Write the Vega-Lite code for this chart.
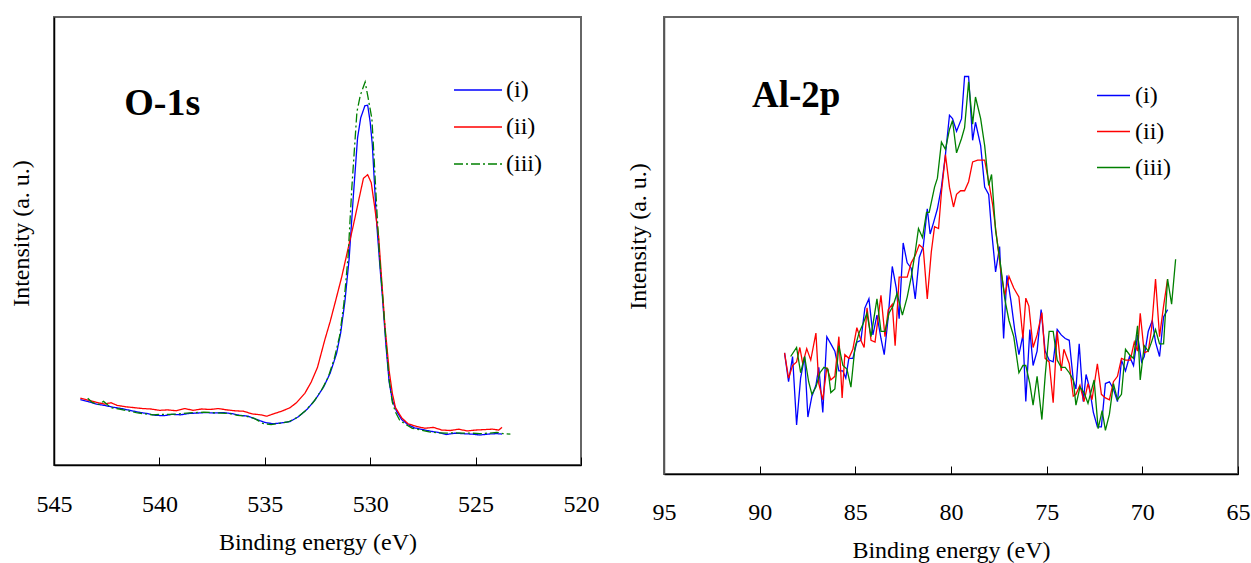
{
"$schema": "https://vega.github.io/schema/vega-lite/v6.json",
"background": "white",
"padding": {"left": 8, "top": 16, "right": 0, "bottom": 0},
"spacing": 25,
"config": {
  "font": "Liberation Serif",
  "view": {"stroke": "#666666", "strokeWidth": 2},
  "axis": {"grid": false, "labelColor": "black", "titleColor": "black", "labelFont": "Liberation Serif", "titleFont": "Liberation Serif", "labelFontSize": 24, "titleFontSize": 24, "titleFontWeight": "normal", "tickColor": "black", "domainColor": "black", "domainWidth": 1.5},
  "legend": {"labelFont": "Liberation Serif", "labelFontSize": 24, "labelColor": "black", "symbolType": "stroke", "title": null}
},
"datasets": {
"o1s": [
{"sample":"(i)","energy":543.75,"intensity":14.6},{"sample":"(i)","energy":543.4,"intensity":14.2},{"sample":"(i)","energy":543.0,"intensity":13.6},{"sample":"(i)","energy":542.6,"intensity":13.3},{"sample":"(i)","energy":542.2,"intensity":12.9},{"sample":"(i)","energy":541.8,"intensity":12.6},{"sample":"(i)","energy":541.4,"intensity":12.2},{"sample":"(i)","energy":541.0,"intensity":11.8},{"sample":"(i)","energy":540.6,"intensity":11.5},{"sample":"(i)","energy":540.2,"intensity":11.1},{"sample":"(i)","energy":539.8,"intensity":11.0},{"sample":"(i)","energy":539.4,"intensity":11.3},{"sample":"(i)","energy":539.0,"intensity":11.2},{"sample":"(i)","energy":538.6,"intensity":11.5},{"sample":"(i)","energy":538.2,"intensity":11.6},{"sample":"(i)","energy":537.8,"intensity":11.7},{"sample":"(i)","energy":537.4,"intensity":11.6},{"sample":"(i)","energy":537.0,"intensity":11.7},{"sample":"(i)","energy":536.6,"intensity":11.5},{"sample":"(i)","energy":536.2,"intensity":11.1},{"sample":"(i)","energy":535.8,"intensity":10.9},{"sample":"(i)","energy":535.4,"intensity":10.2},{"sample":"(i)","energy":535.0,"intensity":9.5},{"sample":"(i)","energy":534.6,"intensity":9.2},{"sample":"(i)","energy":534.2,"intensity":9.4},{"sample":"(i)","energy":533.8,"intensity":9.7},{"sample":"(i)","energy":533.4,"intensity":10.8},{"sample":"(i)","energy":533.0,"intensity":12.4},{"sample":"(i)","energy":532.6,"intensity":14.6},{"sample":"(i)","energy":532.2,"intensity":17.5},{"sample":"(i)","energy":531.9,"intensity":20.5},{"sample":"(i)","energy":531.6,"intensity":24.8},{"sample":"(i)","energy":531.4,"intensity":29.5},{"sample":"(i)","energy":531.2,"intensity":36.5},{"sample":"(i)","energy":531.0,"intensity":46.0},{"sample":"(i)","energy":530.8,"intensity":60.0},{"sample":"(i)","energy":530.6,"intensity":73.0},{"sample":"(i)","energy":530.45,"intensity":77.5},{"sample":"(i)","energy":530.25,"intensity":80.2},{"sample":"(i)","energy":530.12,"intensity":80.3},{"sample":"(i)","energy":530.0,"intensity":76.5},{"sample":"(i)","energy":529.9,"intensity":71.5},{"sample":"(i)","energy":529.7,"intensity":54.5},{"sample":"(i)","energy":529.55,"intensity":45.0},{"sample":"(i)","energy":529.42,"intensity":37.5},{"sample":"(i)","energy":529.25,"intensity":26.5},{"sample":"(i)","energy":529.1,"intensity":18.5},{"sample":"(i)","energy":528.95,"intensity":14.5},{"sample":"(i)","energy":528.75,"intensity":12.0},{"sample":"(i)","energy":528.5,"intensity":10.1},{"sample":"(i)","energy":528.2,"intensity":9.0},{"sample":"(i)","energy":527.9,"intensity":8.3},{"sample":"(i)","energy":527.5,"intensity":7.9},{"sample":"(i)","energy":527.1,"intensity":7.5},{"sample":"(i)","energy":526.8,"intensity":7.3},{"sample":"(i)","energy":526.4,"intensity":6.8},{"sample":"(i)","energy":526.0,"intensity":7.1},{"sample":"(i)","energy":525.6,"intensity":7.0},{"sample":"(i)","energy":525.2,"intensity":6.9},{"sample":"(i)","energy":524.8,"intensity":6.7},{"sample":"(i)","energy":524.4,"intensity":6.9},{"sample":"(i)","energy":524.0,"intensity":7.0},{"sample":"(i)","energy":523.75,"intensity":6.9},
{"sample":"(ii)","energy":543.75,"intensity":14.9},{"sample":"(ii)","energy":543.4,"intensity":14.5},{"sample":"(ii)","energy":543.0,"intensity":14.0},{"sample":"(ii)","energy":542.6,"intensity":13.6},{"sample":"(ii)","energy":542.3,"intensity":13.9},{"sample":"(ii)","energy":542.0,"intensity":13.3},{"sample":"(ii)","energy":541.6,"intensity":13.0},{"sample":"(ii)","energy":541.2,"intensity":12.8},{"sample":"(ii)","energy":540.8,"intensity":12.6},{"sample":"(ii)","energy":540.4,"intensity":12.5},{"sample":"(ii)","energy":540.0,"intensity":12.2},{"sample":"(ii)","energy":539.6,"intensity":12.3},{"sample":"(ii)","energy":539.2,"intensity":12.1},{"sample":"(ii)","energy":538.8,"intensity":12.6},{"sample":"(ii)","energy":538.4,"intensity":12.2},{"sample":"(ii)","energy":538.0,"intensity":12.5},{"sample":"(ii)","energy":537.6,"intensity":12.4},{"sample":"(ii)","energy":537.2,"intensity":12.6},{"sample":"(ii)","energy":536.8,"intensity":12.3},{"sample":"(ii)","energy":536.4,"intensity":12.1},{"sample":"(ii)","energy":536.0,"intensity":12.0},{"sample":"(ii)","energy":535.6,"intensity":11.4},{"sample":"(ii)","energy":535.2,"intensity":11.2},{"sample":"(ii)","energy":534.9,"intensity":10.9},{"sample":"(ii)","energy":534.6,"intensity":11.4},{"sample":"(ii)","energy":534.2,"intensity":12.0},{"sample":"(ii)","energy":533.8,"intensity":12.8},{"sample":"(ii)","energy":533.5,"intensity":13.9},{"sample":"(ii)","energy":533.1,"intensity":16.0},{"sample":"(ii)","energy":532.8,"intensity":18.5},{"sample":"(ii)","energy":532.5,"intensity":21.8},{"sample":"(ii)","energy":532.15,"intensity":28.0},{"sample":"(ii)","energy":531.9,"intensity":32.0},{"sample":"(ii)","energy":531.65,"intensity":36.5},{"sample":"(ii)","energy":531.35,"intensity":42.0},{"sample":"(ii)","energy":531.05,"intensity":48.3},{"sample":"(ii)","energy":530.8,"intensity":53.5},{"sample":"(ii)","energy":530.55,"intensity":59.0},{"sample":"(ii)","energy":530.32,"intensity":64.0},{"sample":"(ii)","energy":530.12,"intensity":64.8},{"sample":"(ii)","energy":529.95,"intensity":63.0},{"sample":"(ii)","energy":529.8,"intensity":58.0},{"sample":"(ii)","energy":529.6,"intensity":51.0},{"sample":"(ii)","energy":529.45,"intensity":41.0},{"sample":"(ii)","energy":529.3,"intensity":31.0},{"sample":"(ii)","energy":529.1,"intensity":21.0},{"sample":"(ii)","energy":528.95,"intensity":16.0},{"sample":"(ii)","energy":528.8,"intensity":12.8},{"sample":"(ii)","energy":528.5,"intensity":10.5},{"sample":"(ii)","energy":528.2,"intensity":9.2},{"sample":"(ii)","energy":527.8,"intensity":8.6},{"sample":"(ii)","energy":527.4,"intensity":8.2},{"sample":"(ii)","energy":527.0,"intensity":8.4},{"sample":"(ii)","energy":526.6,"intensity":7.8},{"sample":"(ii)","energy":526.2,"intensity":7.7},{"sample":"(ii)","energy":525.8,"intensity":8.0},{"sample":"(ii)","energy":525.4,"intensity":7.6},{"sample":"(ii)","energy":525.0,"intensity":7.8},{"sample":"(ii)","energy":524.6,"intensity":7.9},{"sample":"(ii)","energy":524.2,"intensity":8.0},{"sample":"(ii)","energy":523.9,"intensity":7.8},{"sample":"(ii)","energy":523.75,"intensity":8.4},
{"sample":"(iii)","energy":543.4,"intensity":14.9},{"sample":"(iii)","energy":543.2,"intensity":14.0},{"sample":"(iii)","energy":542.9,"intensity":13.5},{"sample":"(iii)","energy":542.65,"intensity":14.2},{"sample":"(iii)","energy":542.3,"intensity":12.8},{"sample":"(iii)","energy":541.9,"intensity":12.5},{"sample":"(iii)","energy":541.5,"intensity":12.1},{"sample":"(iii)","energy":541.1,"intensity":11.7},{"sample":"(iii)","energy":540.7,"intensity":11.4},{"sample":"(iii)","energy":540.3,"intensity":11.2},{"sample":"(iii)","energy":539.9,"intensity":11.3},{"sample":"(iii)","energy":539.5,"intensity":11.3},{"sample":"(iii)","energy":539.1,"intensity":11.4},{"sample":"(iii)","energy":538.7,"intensity":11.6},{"sample":"(iii)","energy":538.3,"intensity":11.7},{"sample":"(iii)","energy":537.9,"intensity":11.8},{"sample":"(iii)","energy":537.5,"intensity":11.7},{"sample":"(iii)","energy":537.1,"intensity":11.6},{"sample":"(iii)","energy":536.7,"intensity":11.5},{"sample":"(iii)","energy":536.3,"intensity":11.1},{"sample":"(iii)","energy":535.9,"intensity":10.9},{"sample":"(iii)","energy":535.5,"intensity":10.4},{"sample":"(iii)","energy":535.1,"intensity":9.3},{"sample":"(iii)","energy":534.7,"intensity":9.0},{"sample":"(iii)","energy":534.3,"intensity":9.3},{"sample":"(iii)","energy":533.9,"intensity":9.6},{"sample":"(iii)","energy":533.5,"intensity":10.5},{"sample":"(iii)","energy":533.1,"intensity":12.0},{"sample":"(iii)","energy":532.7,"intensity":14.0},{"sample":"(iii)","energy":532.3,"intensity":16.8},{"sample":"(iii)","energy":532.0,"intensity":19.5},{"sample":"(iii)","energy":531.7,"intensity":23.8},{"sample":"(iii)","energy":531.45,"intensity":28.8},{"sample":"(iii)","energy":531.25,"intensity":36.0},{"sample":"(iii)","energy":531.05,"intensity":46.5},{"sample":"(iii)","energy":530.87,"intensity":62.0},{"sample":"(iii)","energy":530.63,"intensity":78.8},{"sample":"(iii)","energy":530.47,"intensity":82.5},{"sample":"(iii)","energy":530.24,"intensity":85.5},{"sample":"(iii)","energy":530.1,"intensity":82.0},{"sample":"(iii)","energy":529.92,"intensity":77.3},{"sample":"(iii)","energy":529.84,"intensity":70.6},{"sample":"(iii)","energy":529.68,"intensity":56.5},{"sample":"(iii)","energy":529.55,"intensity":46.0},{"sample":"(iii)","energy":529.4,"intensity":37.0},{"sample":"(iii)","energy":529.25,"intensity":27.5},{"sample":"(iii)","energy":529.1,"intensity":19.0},{"sample":"(iii)","energy":528.95,"intensity":14.0},{"sample":"(iii)","energy":528.8,"intensity":11.8},{"sample":"(iii)","energy":528.6,"intensity":10.0},{"sample":"(iii)","energy":528.3,"intensity":9.0},{"sample":"(iii)","energy":528.0,"intensity":8.2},{"sample":"(iii)","energy":527.6,"intensity":7.8},{"sample":"(iii)","energy":527.2,"intensity":7.4},{"sample":"(iii)","energy":526.8,"intensity":7.2},{"sample":"(iii)","energy":526.4,"intensity":7.1},{"sample":"(iii)","energy":526.0,"intensity":7.2},{"sample":"(iii)","energy":525.6,"intensity":7.1},{"sample":"(iii)","energy":525.2,"intensity":7.1},{"sample":"(iii)","energy":524.8,"intensity":7.0},{"sample":"(iii)","energy":524.4,"intensity":7.1},{"sample":"(iii)","energy":524.0,"intensity":7.3},{"sample":"(iii)","energy":523.7,"intensity":7.0},{"sample":"(iii)","energy":523.35,"intensity":6.9}
],
"al2p": [
{"sample":"(i)","energy":88.70,"intensity":26.50},{"sample":"(i)","energy":88.49,"intensity":20.19},{"sample":"(i)","energy":88.28,"intensity":25.71},{"sample":"(i)","energy":88.07,"intensity":10.72},{"sample":"(i)","energy":87.86,"intensity":20.98},{"sample":"(i)","energy":87.65,"intensity":25.71},{"sample":"(i)","energy":87.48,"intensity":12.46},{"sample":"(i)","energy":87.27,"intensity":17.03},{"sample":"(i)","energy":87.06,"intensity":19.40},{"sample":"(i)","energy":86.91,"intensity":23.34},{"sample":"(i)","energy":86.70,"intensity":13.49},{"sample":"(i)","energy":86.49,"intensity":30.05},{"sample":"(i)","energy":86.28,"intensity":28.47},{"sample":"(i)","energy":86.07,"intensity":26.89},{"sample":"(i)","energy":85.86,"intensity":22.55},{"sample":"(i)","energy":85.65,"intensity":22.55},{"sample":"(i)","energy":85.50,"intensity":20.98},{"sample":"(i)","energy":85.34,"intensity":25.31},{"sample":"(i)","energy":85.13,"intensity":25.31},{"sample":"(i)","energy":84.92,"intensity":28.86},{"sample":"(i)","energy":84.71,"intensity":29.26},{"sample":"(i)","energy":84.50,"intensity":36.35},{"sample":"(i)","energy":84.29,"intensity":38.33},{"sample":"(i)","energy":84.08,"intensity":30.44},{"sample":"(i)","energy":83.87,"intensity":34.78},{"sample":"(i)","energy":83.66,"intensity":29.65},{"sample":"(i)","energy":83.49,"intensity":26.10},{"sample":"(i)","energy":83.28,"intensity":34.38},{"sample":"(i)","energy":83.07,"intensity":45.42},{"sample":"(i)","energy":82.86,"intensity":40.69},{"sample":"(i)","energy":82.71,"intensity":33.99},{"sample":"(i)","energy":82.50,"intensity":50.55},{"sample":"(i)","energy":82.29,"intensity":46.21},{"sample":"(i)","energy":82.08,"intensity":45.03},{"sample":"(i)","energy":81.87,"intensity":38.33},{"sample":"(i)","energy":81.66,"intensity":47.39},{"sample":"(i)","energy":81.45,"intensity":49.76},{"sample":"(i)","energy":81.24,"intensity":58.04},{"sample":"(i)","energy":81.09,"intensity":52.52},{"sample":"(i)","energy":80.92,"intensity":54.89},{"sample":"(i)","energy":80.71,"intensity":58.04},{"sample":"(i)","energy":80.50,"intensity":62.77},{"sample":"(i)","energy":80.29,"intensity":69.87},{"sample":"(i)","energy":80.08,"intensity":78.50},{"sample":"(i)","energy":79.92,"intensity":77.76},{"sample":"(i)","energy":79.71,"intensity":75.00},{"sample":"(i)","energy":79.45,"intensity":77.76},{"sample":"(i)","energy":79.29,"intensity":86.98},{"sample":"(i)","energy":79.08,"intensity":86.98},{"sample":"(i)","energy":78.87,"intensity":73.02},{"sample":"(i)","energy":78.72,"intensity":76.97},{"sample":"(i)","energy":78.45,"intensity":71.84},{"sample":"(i)","energy":78.24,"intensity":62.77},{"sample":"(i)","energy":78.03,"intensity":61.19},{"sample":"(i)","energy":77.88,"intensity":53.31},{"sample":"(i)","energy":77.67,"intensity":44.24},{"sample":"(i)","energy":77.46,"intensity":49.76},{"sample":"(i)","energy":77.25,"intensity":29.65},{"sample":"(i)","energy":77.08,"intensity":43.45},{"sample":"(i)","energy":76.87,"intensity":37.93},{"sample":"(i)","energy":76.66,"intensity":31.23},{"sample":"(i)","energy":76.45,"intensity":26.10},{"sample":"(i)","energy":76.24,"intensity":30.44},{"sample":"(i)","energy":76.09,"intensity":15.85},{"sample":"(i)","energy":75.88,"intensity":31.62},{"sample":"(i)","energy":75.71,"intensity":23.74},{"sample":"(i)","energy":75.50,"intensity":26.89},{"sample":"(i)","energy":75.29,"intensity":35.96},{"sample":"(i)","energy":75.08,"intensity":26.89},{"sample":"(i)","energy":74.87,"intensity":24.92},{"sample":"(i)","energy":74.66,"intensity":24.53},{"sample":"(i)","energy":74.45,"intensity":31.62},{"sample":"(i)","energy":74.24,"intensity":30.44},{"sample":"(i)","energy":74.03,"intensity":29.65},{"sample":"(i)","energy":73.82,"intensity":29.26},{"sample":"(i)","energy":73.61,"intensity":20.58},{"sample":"(i)","energy":73.47,"intensity":18.61},{"sample":"(i)","energy":73.30,"intensity":28.47},{"sample":"(i)","energy":73.09,"intensity":15.85},{"sample":"(i)","energy":72.94,"intensity":21.77},{"sample":"(i)","energy":72.77,"intensity":19.01},{"sample":"(i)","energy":72.56,"intensity":13.49},{"sample":"(i)","energy":72.35,"intensity":10.33},{"sample":"(i)","energy":72.14,"intensity":10.33},{"sample":"(i)","energy":71.93,"intensity":19.79},{"sample":"(i)","energy":71.72,"intensity":20.19},{"sample":"(i)","energy":71.51,"intensity":18.61},{"sample":"(i)","energy":71.30,"intensity":15.85},{"sample":"(i)","energy":71.09,"intensity":24.92},{"sample":"(i)","energy":70.88,"intensity":22.55},{"sample":"(i)","energy":70.67,"intensity":25.71},{"sample":"(i)","energy":70.46,"intensity":23.74},{"sample":"(i)","energy":70.25,"intensity":30.44},{"sample":"(i)","energy":70.04,"intensity":24.53},{"sample":"(i)","energy":69.90,"intensity":25.71},{"sample":"(i)","energy":69.69,"intensity":31.23},{"sample":"(i)","energy":69.48,"intensity":33.59},{"sample":"(i)","energy":69.31,"intensity":28.86},{"sample":"(i)","energy":69.10,"intensity":25.71},{"sample":"(i)","energy":68.89,"intensity":34.38},{"sample":"(i)","energy":68.68,"intensity":35.96},
{"sample":"(ii)","energy":88.70,"intensity":26.50},{"sample":"(ii)","energy":88.49,"intensity":20.98},{"sample":"(ii)","energy":88.28,"intensity":23.74},{"sample":"(ii)","energy":88.07,"intensity":24.53},{"sample":"(ii)","energy":87.90,"intensity":27.68},{"sample":"(ii)","energy":87.75,"intensity":24.13},{"sample":"(ii)","energy":87.54,"intensity":27.44},{"sample":"(ii)","energy":87.33,"intensity":24.92},{"sample":"(ii)","energy":87.06,"intensity":30.83},{"sample":"(ii)","energy":86.91,"intensity":19.79},{"sample":"(ii)","energy":86.70,"intensity":16.25},{"sample":"(ii)","energy":86.49,"intensity":23.34},{"sample":"(ii)","energy":86.28,"intensity":20.58},{"sample":"(ii)","energy":86.07,"intensity":21.37},{"sample":"(ii)","energy":85.86,"intensity":30.05},{"sample":"(ii)","energy":85.69,"intensity":16.64},{"sample":"(ii)","energy":85.55,"intensity":26.10},{"sample":"(ii)","energy":85.34,"intensity":25.31},{"sample":"(ii)","energy":85.13,"intensity":27.29},{"sample":"(ii)","energy":84.92,"intensity":32.02},{"sample":"(ii)","energy":84.71,"intensity":29.26},{"sample":"(ii)","energy":84.54,"intensity":27.68},{"sample":"(ii)","energy":84.39,"intensity":36.35},{"sample":"(ii)","energy":84.18,"intensity":29.26},{"sample":"(ii)","energy":83.97,"intensity":28.86},{"sample":"(ii)","energy":83.66,"intensity":39.11},{"sample":"(ii)","energy":83.45,"intensity":30.05},{"sample":"(ii)","energy":83.28,"intensity":35.96},{"sample":"(ii)","energy":83.07,"intensity":37.14},{"sample":"(ii)","energy":82.92,"intensity":28.07},{"sample":"(ii)","energy":82.71,"intensity":43.06},{"sample":"(ii)","energy":82.50,"intensity":43.06},{"sample":"(ii)","energy":82.29,"intensity":43.06},{"sample":"(ii)","energy":82.08,"intensity":46.21},{"sample":"(ii)","energy":81.87,"intensity":47.79},{"sample":"(ii)","energy":81.66,"intensity":50.15},{"sample":"(ii)","energy":81.45,"intensity":49.37},{"sample":"(ii)","energy":81.24,"intensity":38.33},{"sample":"(ii)","energy":81.03,"intensity":48.58},{"sample":"(ii)","energy":80.86,"intensity":54.10},{"sample":"(ii)","energy":80.65,"intensity":53.70},{"sample":"(ii)","energy":80.50,"intensity":61.59},{"sample":"(ii)","energy":80.29,"intensity":69.87},{"sample":"(ii)","energy":80.08,"intensity":62.77},{"sample":"(ii)","energy":79.87,"intensity":58.43},{"sample":"(ii)","energy":79.71,"intensity":61.19},{"sample":"(ii)","energy":79.50,"intensity":61.98},{"sample":"(ii)","energy":79.29,"intensity":61.98},{"sample":"(ii)","energy":79.08,"intensity":63.95},{"sample":"(ii)","energy":78.87,"intensity":68.29},{"sample":"(ii)","energy":78.61,"intensity":68.69},{"sample":"(ii)","energy":78.24,"intensity":68.69},{"sample":"(ii)","energy":78.03,"intensity":63.95},{"sample":"(ii)","energy":77.82,"intensity":58.83},{"sample":"(ii)","energy":77.61,"intensity":51.73},{"sample":"(ii)","energy":77.40,"intensity":44.63},{"sample":"(ii)","energy":77.19,"intensity":39.11},{"sample":"(ii)","energy":76.97,"intensity":43.22},{"sample":"(ii)","energy":76.72,"intensity":40.69},{"sample":"(ii)","energy":76.45,"intensity":38.72},{"sample":"(ii)","energy":76.24,"intensity":29.65},{"sample":"(ii)","energy":76.09,"intensity":38.48},{"sample":"(ii)","energy":75.93,"intensity":36.75},{"sample":"(ii)","energy":75.71,"intensity":27.68},{"sample":"(ii)","energy":75.50,"intensity":30.44},{"sample":"(ii)","energy":75.25,"intensity":35.33},{"sample":"(ii)","energy":75.08,"intensity":25.31},{"sample":"(ii)","energy":74.87,"intensity":24.53},{"sample":"(ii)","energy":74.66,"intensity":15.61},{"sample":"(ii)","energy":74.45,"intensity":31.23},{"sample":"(ii)","energy":74.24,"intensity":22.55},{"sample":"(ii)","energy":74.10,"intensity":27.29},{"sample":"(ii)","energy":73.82,"intensity":24.13},{"sample":"(ii)","energy":73.61,"intensity":17.03},{"sample":"(ii)","energy":73.47,"intensity":17.43},{"sample":"(ii)","energy":73.26,"intensity":19.40},{"sample":"(ii)","energy":73.05,"intensity":15.85},{"sample":"(ii)","energy":72.84,"intensity":19.79},{"sample":"(ii)","energy":72.63,"intensity":16.25},{"sample":"(ii)","energy":72.35,"intensity":24.13},{"sample":"(ii)","energy":72.14,"intensity":17.43},{"sample":"(ii)","energy":71.93,"intensity":16.64},{"sample":"(ii)","energy":71.72,"intensity":16.25},{"sample":"(ii)","energy":71.51,"intensity":20.19},{"sample":"(ii)","energy":71.30,"intensity":21.37},{"sample":"(ii)","energy":71.09,"intensity":25.31},{"sample":"(ii)","energy":70.88,"intensity":24.92},{"sample":"(ii)","energy":70.63,"intensity":24.92},{"sample":"(ii)","energy":70.42,"intensity":28.86},{"sample":"(ii)","energy":70.25,"intensity":26.89},{"sample":"(ii)","energy":70.11,"intensity":35.17},{"sample":"(ii)","energy":69.90,"intensity":26.50},{"sample":"(ii)","energy":69.69,"intensity":26.89},{"sample":"(ii)","energy":69.52,"intensity":31.62},{"sample":"(ii)","energy":69.31,"intensity":42.66},{"sample":"(ii)","energy":69.10,"intensity":30.05},{"sample":"(ii)","energy":68.89,"intensity":36.75},{"sample":"(ii)","energy":68.68,"intensity":42.66},
{"sample":"(iii)","energy":88.38,"intensity":25.71},{"sample":"(iii)","energy":88.07,"intensity":27.68},{"sample":"(iii)","energy":87.86,"intensity":22.16},{"sample":"(iii)","energy":87.65,"intensity":25.71},{"sample":"(iii)","energy":87.44,"intensity":20.19},{"sample":"(iii)","energy":87.27,"intensity":17.43},{"sample":"(iii)","energy":87.06,"intensity":19.01},{"sample":"(iii)","energy":86.85,"intensity":22.16},{"sample":"(iii)","energy":86.64,"intensity":23.34},{"sample":"(iii)","energy":86.43,"intensity":22.95},{"sample":"(iii)","energy":86.28,"intensity":17.82},{"sample":"(iii)","energy":86.07,"intensity":18.61},{"sample":"(iii)","energy":85.86,"intensity":28.07},{"sample":"(iii)","energy":85.65,"intensity":23.74},{"sample":"(iii)","energy":85.44,"intensity":22.95},{"sample":"(iii)","energy":85.23,"intensity":19.01},{"sample":"(iii)","energy":85.02,"intensity":27.68},{"sample":"(iii)","energy":84.81,"intensity":30.83},{"sample":"(iii)","energy":84.60,"intensity":32.81},{"sample":"(iii)","energy":84.39,"intensity":35.17},{"sample":"(iii)","energy":84.18,"intensity":30.05},{"sample":"(iii)","energy":83.87,"intensity":38.33},{"sample":"(iii)","energy":83.66,"intensity":31.23},{"sample":"(iii)","energy":83.45,"intensity":31.23},{"sample":"(iii)","energy":83.24,"intensity":35.17},{"sample":"(iii)","energy":83.03,"intensity":36.75},{"sample":"(iii)","energy":82.82,"intensity":39.51},{"sample":"(iii)","energy":82.54,"intensity":34.78},{"sample":"(iii)","energy":82.29,"intensity":38.72},{"sample":"(iii)","energy":82.08,"intensity":43.06},{"sample":"(iii)","energy":81.87,"intensity":48.58},{"sample":"(iii)","energy":81.70,"intensity":53.70},{"sample":"(iii)","energy":81.49,"intensity":51.73},{"sample":"(iii)","energy":81.28,"intensity":57.25},{"sample":"(iii)","energy":81.14,"intensity":57.25},{"sample":"(iii)","energy":80.86,"intensity":62.77},{"sample":"(iii)","energy":80.71,"intensity":64.74},{"sample":"(iii)","energy":80.50,"intensity":72.63},{"sample":"(iii)","energy":80.29,"intensity":71.05},{"sample":"(iii)","energy":80.08,"intensity":75.39},{"sample":"(iii)","energy":79.92,"intensity":77.36},{"sample":"(iii)","energy":79.71,"intensity":70.26},{"sample":"(iii)","energy":79.45,"intensity":73.42},{"sample":"(iii)","energy":79.29,"intensity":75.78},{"sample":"(iii)","energy":79.08,"intensity":85.80},{"sample":"(iii)","energy":78.87,"intensity":76.57},{"sample":"(iii)","energy":78.72,"intensity":82.49},{"sample":"(iii)","energy":78.45,"intensity":77.76},{"sample":"(iii)","energy":78.24,"intensity":71.84},{"sample":"(iii)","energy":78.03,"intensity":63.17},{"sample":"(iii)","energy":77.88,"intensity":65.53},{"sample":"(iii)","energy":77.67,"intensity":53.31},{"sample":"(iii)","energy":77.40,"intensity":45.42},{"sample":"(iii)","energy":77.19,"intensity":38.33},{"sample":"(iii)","energy":76.97,"intensity":33.59},{"sample":"(iii)","energy":76.72,"intensity":30.05},{"sample":"(iii)","energy":76.45,"intensity":22.16},{"sample":"(iii)","energy":76.24,"intensity":23.74},{"sample":"(iii)","energy":76.09,"intensity":23.74},{"sample":"(iii)","energy":75.88,"intensity":19.79},{"sample":"(iii)","energy":75.71,"intensity":15.06},{"sample":"(iii)","energy":75.50,"intensity":21.37},{"sample":"(iii)","energy":75.25,"intensity":11.91},{"sample":"(iii)","energy":75.08,"intensity":21.37},{"sample":"(iii)","energy":74.87,"intensity":31.23},{"sample":"(iii)","energy":74.66,"intensity":31.23},{"sample":"(iii)","energy":74.45,"intensity":24.92},{"sample":"(iii)","energy":74.24,"intensity":23.34},{"sample":"(iii)","energy":74.03,"intensity":23.34},{"sample":"(iii)","energy":73.82,"intensity":22.16},{"sample":"(iii)","energy":73.61,"intensity":20.58},{"sample":"(iii)","energy":73.47,"intensity":15.06},{"sample":"(iii)","energy":73.26,"intensity":19.01},{"sample":"(iii)","energy":73.05,"intensity":17.82},{"sample":"(iii)","energy":72.84,"intensity":15.46},{"sample":"(iii)","energy":72.52,"intensity":20.58},{"sample":"(iii)","energy":72.31,"intensity":9.94},{"sample":"(iii)","energy":72.10,"intensity":13.88},{"sample":"(iii)","energy":71.93,"intensity":9.54},{"sample":"(iii)","energy":71.72,"intensity":13.09},{"sample":"(iii)","energy":71.51,"intensity":19.79},{"sample":"(iii)","energy":71.30,"intensity":16.25},{"sample":"(iii)","energy":71.09,"intensity":17.43},{"sample":"(iii)","energy":70.88,"intensity":27.29},{"sample":"(iii)","energy":70.67,"intensity":26.10},{"sample":"(iii)","energy":70.46,"intensity":25.31},{"sample":"(iii)","energy":70.25,"intensity":32.41},{"sample":"(iii)","energy":70.11,"intensity":20.58},{"sample":"(iii)","energy":69.90,"intensity":28.07},{"sample":"(iii)","energy":69.69,"intensity":26.89},{"sample":"(iii)","energy":69.52,"intensity":28.86},{"sample":"(iii)","energy":69.31,"intensity":31.62},{"sample":"(iii)","energy":69.10,"intensity":28.47},{"sample":"(iii)","energy":68.89,"intensity":28.47},{"sample":"(iii)","energy":68.68,"intensity":42.66},{"sample":"(iii)","energy":68.47,"intensity":37.14},{"sample":"(iii)","energy":68.26,"intensity":47.00}
]
},
"hconcat": [
{
  "width": 527, "height": 448,
  "layer": [
    {
      "data": {"name": "o1s"},
      "mark": {"type": "line", "clip": true},
      "encoding": {
        "x": {"field": "energy", "type": "quantitative", "scale": {"domain": [545, 520], "nice": false, "zero": false},
              "axis": {"title": "Binding energy (eV)", "values": [545, 540, 535, 530, 525, 520], "tickSize": -8, "labelPadding": 35, "titlePadding": 14, "labelFlush": false}},
        "y": {"field": "intensity", "type": "quantitative", "scale": {"domain": [0, 100], "nice": false},
              "axis": {"title": "Intensity (a. u.)", "labels": false, "ticks": false, "titlePadding": 21, "titleY": 216}},
        "color": {"field": "sample", "type": "nominal", "scale": {"domain": ["(i)", "(ii)", "(iii)"], "range": ["#0000FF", "#FF0000", "#008000"]},
                  "legend": {"orient": "none", "legendX": 399, "legendY": 48, "symbolSize": 2304, "rowPadding": -7, "labelOffset": 3}},
        "strokeDash": {"field": "sample", "type": "nominal", "scale": {"domain": ["(i)", "(ii)", "(iii)"], "range": [[1, 0], [1, 0], [9, 3, 2, 3]]},
                  "legend": {"orient": "none", "legendX": 399, "legendY": 48, "symbolSize": 2304, "rowPadding": -7, "labelOffset": 3}},
        "strokeWidth": {"field": "sample", "type": "nominal", "scale": {"domain": ["(i)", "(ii)", "(iii)"], "range": [1.3, 1.3, 2.2]},
                  "legend": {"orient": "none", "legendX": 399, "legendY": 48, "symbolSize": 2304, "rowPadding": -7, "labelOffset": 3}}
      }
    },
    {
      "data": {"values": [{}]},
      "mark": {"type": "text", "text": "O-1s", "font": "Liberation Serif", "fontSize": 38, "fontWeight": "bold", "align": "left", "baseline": "alphabetic", "color": "black"},
      "encoding": {"x": {"datum": 541.67}, "y": {"datum": 78.1}}
    }
  ]
},
{
  "width": 574, "height": 457,
  "layer": [
    {
      "data": {"name": "al2p"},
      "mark": {"type": "line", "strokeWidth": 1.3, "clip": true},
      "encoding": {
        "x": {"field": "energy", "type": "quantitative", "scale": {"domain": [95, 65], "nice": false, "zero": false},
              "axis": {"title": "Binding energy (eV)", "values": [95, 90, 85, 80, 75, 70, 65], "tickSize": -8, "labelPadding": 34, "titlePadding": 14, "labelFlush": false}},
        "y": {"field": "intensity", "type": "quantitative", "scale": {"domain": [0, 100], "nice": false},
              "axis": {"title": "Intensity (a. u.)", "labels": false, "ticks": false, "titlePadding": 14, "titleY": 219, "domainColor": "#555555"}},
        "color": {"field": "sample", "type": "nominal", "scale": {"domain": ["(i)", "(ii)", "(iii)"], "range": ["#0000FF", "#FF0000", "#008000"]},
                  "legend": {"orient": "none", "legendX": 432, "legendY": 61, "symbolSize": 1089, "rowPadding": 6, "labelOffset": 4, "symbolStrokeWidth": 1.5}}
      }
    },
    {
      "data": {"values": [{}]},
      "mark": {"type": "text", "text": "Al-2p", "font": "Liberation Serif", "fontSize": 37, "fontWeight": "bold", "align": "left", "baseline": "alphabetic", "color": "black"},
      "encoding": {"x": {"datum": 90.4}, "y": {"datum": 80.4}}
    }
  ]
}
],
"resolve": {
  "scale": {"x": "independent", "y": "independent", "color": "independent", "strokeDash": "independent", "strokeWidth": "independent"},
  "legend": {"color": "independent", "strokeDash": "independent", "strokeWidth": "independent"},
  "axis": {"x": "independent", "y": "independent"}
}
}
